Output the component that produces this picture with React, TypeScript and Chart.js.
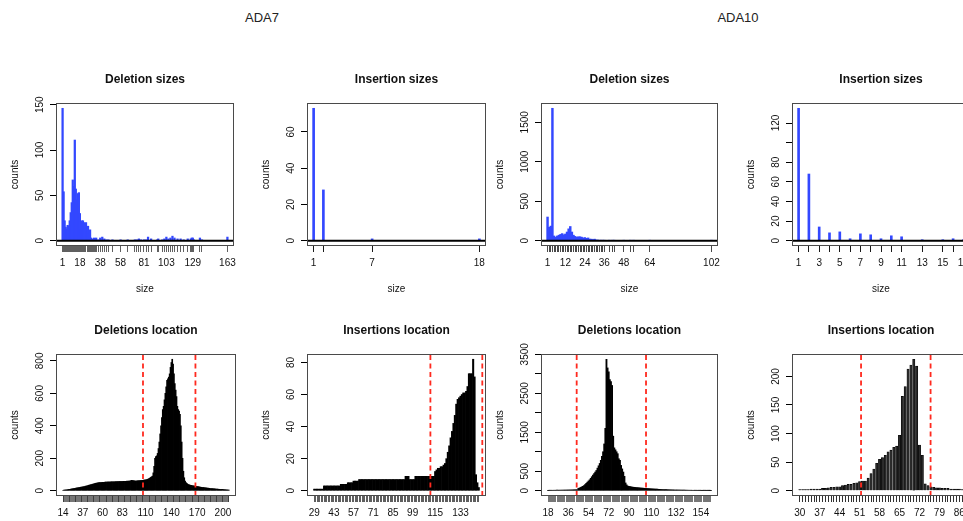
import React, { useEffect, useRef } from "react";
import { Chart, registerables } from "chart.js";

Chart.register(...registerables);

const FONT = "'Liberation Sans', Arial, Helvetica, sans-serif";
Chart.defaults.font.family = FONT;

// ================= ADA7 =================
// Deletion sizes
const ada7DelSizeX = [1, 2, 3, 4, 5, 6, 7, 8, 9, 10, 11, 12, 13, 14, 15, 16, 17, 18, 19, 20, 21, 22, 23, 24, 25, 26, 27, 28, 29, 30, 31, 32, 33, 34, 36, 38, 40, 42, 44, 46, 50, 58, 65, 72, 74, 76, 78, 81, 83, 85, 88, 94, 95, 99, 101, 103, 105, 107, 109, 111, 114, 117, 120, 124, 127, 128, 129, 130, 136, 138, 163];
const ada7DelSizeY = [146, 54, 22, 15, 13, 17, 16, 22, 31, 42, 67, 60, 111, 57, 45, 52, 53, 30, 12, 22, 22, 20, 13, 20, 10, 16, 8, 12, 3, 2, 1, 3, 2, 3, 1, 3, 4, 2, 1, 1, 1, 1, 1, 1, 1, 2, 1, 1, 1, 4, 2, 1, 2, 1, 2, 4, 2, 3, 5, 3, 2, 2, 1, 2, 2, 3, 3, 1, 3, 1, 4];
const ada7DelSizeLabels = [1, 18, 38, 58, 81, 103, 129, 163];
// Insertion sizes
const ada7InsSizeX = [1, 2, 7, 18];
const ada7InsSizeY = [73, 28, 1, 1];
const ada7InsSizeLabels = [1, 7, 18];
// Deletions location (positions start at 14, consecutive)
const ada7DelLocStart = 14;
const ada7DelLocY = [
  3, 4, 4, 5, 5, 6, 7,
  8, 9, 10, 11, 12, 13, 14, 15, 16, 17,
  18, 19, 20, 21, 22, 23, 24, 25, 26, 28,
  29, 31, 32, 34, 35, 37, 38, 40, 41, 43,
  44, 46, 47, 48, 49, 50, 50, 51, 51, 52,
  52, 52, 53, 53, 53, 54, 54, 54, 54, 55,
  55, 55, 55, 55, 56, 56, 56, 56, 56, 57,
  57, 57, 57, 58, 58, 58, 58, 59, 59, 59,
  60, 60, 62, 64, 63, 62, 61, 60, 60, 61,
  61, 62, 62, 63, 63, 64, 64, 65, 66, 67,
  68, 70, 72, 75, 78, 82, 86,
  90, 110, 150, 200, 210, 215, 230, 260, 300, 350,
  400, 450, 500, 520, 560, 600, 640, 680, 690, 700,
  720, 760, 790, 810, 780, 720, 660, 620, 580, 520,
  500, 490, 470, 400, 300, 200, 120, 80, 60, 50,
  45, 40, 38, 36, 34, 33, 32, 31, 30, 29,
  28, 27, 26, 25, 24, 23, 22, 21, 20, 20,
  19, 18, 18, 17, 16, 16, 15, 14, 14, 13,
  13, 12, 12, 11, 11, 10, 10, 9, 9, 8,
  8, 8, 7, 7, 6, 6, 5, 5, 4, 4,
];
const ada7DelLocLabels = [14, 37, 60, 83, 110, 140, 170, 200];
const ada7DelLocCuts = [107, 168];
// Insertions location (positions start at 29)
const ada7InsLocStart = 29;
const ada7InsLocY = [
  1, 1, 1, 1, 1, 1, 1,
  3, 3, 3, 3, 3, 3, 3, 3, 3, 3, 3, 3,
  4, 4, 4, 4, 4,
  5, 5, 5, 5,
  6, 6, 6, 6,
  7, 7, 7, 7, 7, 7, 7, 7, 7, 7, 7, 7, 7, 7, 7, 7, 7, 7, 7, 7, 7, 7, 7, 7, 7, 7, 7, 7, 7, 7, 7, 7, 7,
  9, 9, 9,
  7, 7, 7, 7,
  9, 9, 9, 9, 9, 9, 9, 9, 9, 9, 9, 9, 9, 9,
  12, 13, 14, 14, 15, 15, 16, 17, 20, 24,
  28, 33, 37, 42, 47, 54, 57, 58, 59, 60,
  61, 61, 62, 65, 73, 73, 73, 82, 71, 10,
  5, 2,
];
const ada7InsLocLabels = [29, 43, 57, 71, 85, 99, 115, 133];
const ada7InsLocCuts = [111.6, 148.5];

// ================= ADA10 =================
const ada10DelSizeX = [1, 2, 3, 4, 5, 6, 7, 8, 9, 10, 11, 12, 13, 14, 15, 16, 17, 18, 19, 20, 21, 22, 23, 24, 25, 26, 27, 28, 29, 30, 31, 32, 33, 34, 35, 36, 39, 41, 42, 48, 52, 54, 64, 102];
const ada10DelSizeY = [300, 170, 185, 1677, 60, 45, 60, 70, 80, 90, 75, 85, 110, 150, 180, 110, 70, 55, 45, 50, 50, 45, 35, 40, 30, 35, 20, 20, 15, 20, 10, 8, 5, 3, 2, 2, 1, 1, 2, 1, 1, 1, 1, 1];
const ada10DelSizeLabels = [1, 12, 24, 36, 48, 64, 102];
const ada10InsSizeX = [1, 2, 3, 4, 5, 6, 7, 8, 9, 10, 11, 13, 15, 16, 17];
const ada10InsSizeY = [135, 68, 14, 8, 9, 2, 7, 6, 2, 5, 4, 1, 1, 2, 1];
const ada10InsSizeLabels = [1, 3, 5, 7, 9, 11, 13, 15, 17];
const ada10DelLocStart = 18;
const ada10DelLocY = [
  10, 10, 11, 11, 12, 12, 13, 13, 14, 14, 15, 15, 16,
  16, 17, 17, 18, 18, 19, 20, 20, 21, 22, 23, 24, 25, 26,
  60, 70, 85, 100, 115, 130, 160, 190,
  220, 250, 280, 320, 360, 400, 440, 480,
  520, 580, 640, 700, 780, 880, 1000, 1200, 1600,
  3370, 3150, 3050, 2850, 2800, 2700, 1400,
  1100, 1050, 1000, 950, 820, 780, 650, 560, 480,
  370, 200, 150, 120, 110, 105, 100,
  95, 90, 88, 85, 80, 78, 75, 72,
  70, 68, 65, 62, 60, 58, 56, 54, 52, 50,
  48, 46, 44, 42, 40, 38, 36, 34, 32, 30, 29, 28, 27, 26, 25,
  24, 23, 22, 21, 20, 20, 19, 19, 18, 18, 17, 17, 16, 16, 15, 15, 14, 14, 13, 13,
  12, 12, 12, 11, 11, 11, 10, 10, 10, 9, 9, 9, 8, 8, 8, 7, 7, 7,
];
const ada10DelLocLabels = [18, 36, 54, 72, 90, 110, 132, 154];
const ada10DelLocCuts = [43.5, 105.2];
const ada10InsLocStart = 30;
const ada10InsLocY = [
  2, 2, 2, 2, 3, 3, 3, 3, 4, 4,
  5, 6, 6, 7, 7, 9, 10, 11, 11, 13,
  14, 16, 17, 17, 22, 30, 38, 48, 55, 58,
  62, 68, 71, 76, 78, 97, 165, 182, 213, 220,
  230, 218, 80, 62, 12, 9, 7, 6, 5, 5,
  4, 4, 4, 3, 3, 3, 3, 2,
];
const ada10InsLocLabels = [30, 37, 44, 51, 58, 65, 72, 79, 86];
const ada10InsLocCuts = [51.5, 75.9];

const consecutive = (start: number, ys: number[]) => ys.map((_, i) => start + i);

// ================= layout / style =================
const PAD_L = 60;
const PAD_T = 45;
const PAD_R = 22;
const PAD_B = 58;

const BLUE = "#3348ff";

type Panel = {
  key: string;
  box: [number, number, number, number];
  title: string;
  xs: number[];
  ys: number[];
  xLabels: number[];
  xRange: [number, number];
  yRange: [number, number];
  yTicks: number[];
  yLabels: number[];
  bar: { color: string; border?: string; borderWidth?: number; thickness: number };
  zeroLine: boolean;
  xTitle?: string;
  cuts?: number[];
  rugWidth: number;
};

const panels: Panel[] = [
  {
    key: "p1", box: [56, 103, 234, 246], title: "Deletion sizes",
    xs: ada7DelSizeX, ys: ada7DelSizeY, xLabels: ada7DelSizeLabels,
    xRange: [-5.48, 169.48], yRange: [-5.84, 151.84],
    yTicks: [0, 50, 100, 150], yLabels: [0, 50, 100, 150],
    bar: { color: BLUE, thickness: 1.6 }, zeroLine: true, xTitle: "size", rugWidth: 0.7,
  },
  {
    key: "p2", box: [307, 103, 486, 246], title: "Insertion sizes",
    xs: ada7InsSizeX, ys: ada7InsSizeY, xLabels: ada7InsSizeLabels,
    xRange: [0.32, 18.68], yRange: [-2.92, 75.92],
    yTicks: [0, 20, 40, 60], yLabels: [0, 20, 40, 60],
    bar: { color: BLUE, thickness: 2 }, zeroLine: true, xTitle: "size", rugWidth: 1,
  },
  {
    key: "p3", box: [541, 103, 718, 246], title: "Deletion sizes",
    xs: ada10DelSizeX, ys: ada10DelSizeY, xLabels: ada10DelSizeLabels,
    xRange: [-3.04, 106.04], yRange: [-67, 1744],
    yTicks: [0, 500, 1000, 1500], yLabels: [0, 500, 1000, 1500],
    bar: { color: BLUE, thickness: 1.8 }, zeroLine: true, xTitle: "size", rugWidth: 0.8,
  },
  {
    key: "p4", box: [792, 103, 970, 246], title: "Insertion sizes",
    xs: ada10InsSizeX, ys: ada10InsSizeY, xLabels: ada10InsSizeLabels,
    xRange: [0.36, 17.64], yRange: [-5.4, 140.4],
    yTicks: [0, 20, 40, 60, 80, 100, 120], yLabels: [0, 20, 40, 60, 80, 120],
    bar: { color: BLUE, thickness: 2 }, zeroLine: true, xTitle: "size", rugWidth: 1,
  },
  {
    key: "p5", box: [56, 354, 236, 496], title: "Deletions location",
    xs: consecutive(ada7DelLocStart, ada7DelLocY), ys: ada7DelLocY, xLabels: ada7DelLocLabels,
    xRange: [5.83, 215.17], yRange: [-32.4, 842.4],
    yTicks: [0, 200, 400, 600, 800], yLabels: [0, 200, 400, 600, 800],
    bar: { color: "#000", thickness: 1 }, zeroLine: false, cuts: ada7DelLocCuts, rugWidth: 0.6,
  },
  {
    key: "p6", box: [307, 354, 486, 496], title: "Insertions location",
    xs: consecutive(ada7InsLocStart, ada7InsLocY), ys: ada7InsLocY, xLabels: ada7InsLocLabels,
    xRange: [23.87, 151.13], yRange: [-3.28, 85.28],
    yTicks: [0, 20, 40, 60, 80], yLabels: [0, 20, 40, 60, 80],
    bar: { color: "#000", thickness: 1.4 }, zeroLine: false, cuts: ada7InsLocCuts, rugWidth: 0.7,
  },
  {
    key: "p7", box: [541, 354, 718, 496], title: "Deletions location",
    xs: consecutive(ada10DelLocStart, ada10DelLocY), ys: ada10DelLocY, xLabels: ada10DelLocLabels,
    xRange: [11.75, 169.25], yRange: [-135, 3507],
    yTicks: [0, 500, 1000, 1500, 2000, 2500, 3000, 3500], yLabels: [0, 500, 1500, 2500, 3500],
    bar: { color: "#000", thickness: 1.2 }, zeroLine: false, cuts: ada10DelLocCuts, rugWidth: 0.6,
  },
  {
    key: "p8", box: [792, 354, 970, 496], title: "Insertions location",
    xs: consecutive(ada10InsLocStart, ada10InsLocY), ys: ada10InsLocY, xLabels: ada10InsLocLabels,
    xRange: [27.27, 89.73], yRange: [-9.2, 239.2],
    yTicks: [0, 50, 100, 150, 200], yLabels: [0, 50, 100, 150, 200],
    bar: { color: "#2a2a2a", border: "#000", borderWidth: 0.6, thickness: 2.3 }, zeroLine: false, cuts: ada10InsLocCuts, rugWidth: 0.9,
  },
];

function PanelChart({ p }: { p: Panel }) {
  const ref = useRef<HTMLCanvasElement | null>(null);
  const [l, t, r, b] = p.box;
  const w = r - l;
  const h = b - t;
  const cw = PAD_L + w + PAD_R;
  const ch = PAD_T + h + PAD_B;

  useEffect(() => {
    if (!ref.current) return;
    const [xMin, xMax] = p.xRange;
    const [yMin, yMax] = p.yRange;

    const framePlugin = {
      id: "rframe_" + p.key,
      afterDraw(chart: any) {
        const { ctx, chartArea: a } = chart;
        const ys = chart.scales.y;
        ctx.save();
        ctx.strokeStyle = "#4a4a4a";
        ctx.lineWidth = 1;
        ctx.strokeRect(Math.round(a.left) + 0.5, Math.round(a.top) + 0.5, Math.round(a.right - a.left) - 1, Math.round(a.bottom - a.top) - 1);
        ctx.fillStyle = "#111";
        ctx.textAlign = "center";
        ctx.textBaseline = "middle";
        ctx.font = `10px ${FONT}`;
        for (const v of p.yLabels) {
          const py = ys.getPixelForValue(v);
          ctx.save();
          ctx.translate(a.left - 16, py);
          ctx.rotate(-Math.PI / 2);
          ctx.fillText(String(v), 0, 0);
          ctx.restore();
        }
        const cx = (a.left + a.right) / 2;
        const cy = (a.top + a.bottom) / 2;
        ctx.save();
        ctx.translate(a.left - 41, cy);
        ctx.rotate(-Math.PI / 2);
        ctx.fillText("counts", 0, 0);
        ctx.restore();
        if (p.xTitle) ctx.fillText(p.xTitle, cx, a.bottom + 43.5);
        ctx.font = `bold 12px ${FONT}`;
        ctx.fillText(p.title, cx, a.top - 23);
        ctx.restore();
      },
    };

    const datasets: any[] = [
      {
        type: "bar",
        data: p.xs.map((x, i) => ({ x, y: p.ys[i] })),
        backgroundColor: p.bar.color,
        borderColor: p.bar.border ?? p.bar.color,
        borderWidth: p.bar.borderWidth ?? 0,
        barThickness: p.bar.thickness,
        order: 3,
      },
    ];
    if (p.zeroLine) {
      datasets.push({
        type: "line",
        data: [{ x: xMin, y: 0 }, { x: xMax, y: 0 }],
        borderColor: "#000",
        borderWidth: 2,
        pointRadius: 0,
        order: 1,
      });
    }
    for (const c of p.cuts ?? []) {
      datasets.push({
        type: "line",
        data: [{ x: c, y: yMin }, { x: c, y: yMax }],
        borderColor: "#ff2a1f",
        borderWidth: 1.8,
        borderDash: [5, 3.5],
        pointRadius: 0,
        order: 1,
      });
    }

    const xGrid = {
      drawOnChartArea: false,
      drawTicks: true,
      tickLength: 6,
      color: "#1a1a1a",
      lineWidth: p.rugWidth,
      offset: false,
    };
    const yGrid = {
      drawOnChartArea: false,
      drawTicks: true,
      tickLength: 6,
      color: "#000",
      lineWidth: 1,
      offset: false,
    };

    const chart = new Chart(ref.current, {
      type: "bar",
      data: { datasets },
      options: {
        responsive: false,
        animation: false,
        devicePixelRatio: 1,
        layout: { padding: { left: 0, top: PAD_T, right: PAD_R, bottom: 0 } },
        plugins: {
          legend: { display: false },
          title: { display: false },
          tooltip: { enabled: false },
        },
        scales: {
          x: {
            type: "linear",
            min: xMin,
            max: xMax,
            offset: false,
            afterBuildTicks: (s: any) => {
              s.ticks = p.xs.map((v) => ({ value: v }));
            },
            afterFit: (s: any) => {
              s.height = PAD_B;
            },
            grid: xGrid,
            border: { display: false },
            ticks: {
              autoSkip: false,
              minRotation: 0,
              maxRotation: 0,
              padding: 5,
              color: "#111",
              font: { size: 10, family: FONT },
              callback: (v: any) => (p.xLabels.includes(Number(v)) ? String(v) : ""),
            },
          },
          y: {
            type: "linear",
            min: yMin,
            max: yMax,
            afterBuildTicks: (s: any) => {
              s.ticks = p.yTicks.map((v) => ({ value: v }));
            },
            afterFit: (s: any) => {
              s.width = PAD_L;
            },
            grid: yGrid,
            border: { display: false },
            ticks: { callback: () => "", font: { size: 10, family: FONT } },
          },
        },
      } as any,
      plugins: [framePlugin],
    });
    return () => chart.destroy();
  }, []);

  return (
    <div style={{ position: "absolute", left: l - PAD_L, top: t - PAD_T, width: cw, height: ch }}>
      <canvas ref={ref} width={cw} height={ch} style={{ width: cw, height: ch, display: "block" }} />
    </div>
  );
}

export default function App() {
  const head = (text: string, cx: number) => (
    <div
      style={{
        position: "absolute",
        left: cx - 60,
        top: 10,
        width: 120,
        textAlign: "center",
        font: `13px ${FONT}`,
        lineHeight: "16px",
        color: "#222",
      }}
    >
      {text}
    </div>
  );
  return (
    <div
      style={{
        position: "absolute",
        left: 0,
        top: 0,
        width: 963,
        height: 521,
        overflow: "hidden",
        background: "#fff",
      }}
    >
      {head("ADA7", 262)}
      {head("ADA10", 738)}
      {panels.map((p) => (
        <PanelChart key={p.key} p={p} />
      ))}
    </div>
  );
}
